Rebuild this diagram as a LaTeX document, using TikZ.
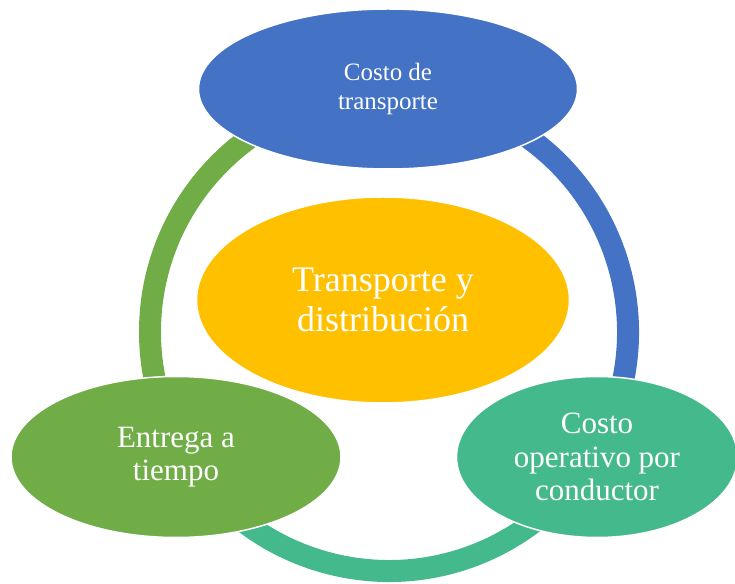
\documentclass[tikz,border=0pt]{standalone}
\usepackage{fontspec}
\setmainfont{Liberation Serif}
\usetikzlibrary{shapes}
\definecolor{costblue}{HTML}{4472C4}
\definecolor{timegreen}{HTML}{70AD47}
\definecolor{hubgold}{HTML}{FFC000}
\definecolor{drivergreen}{HTML}{44B98C}
\begin{document}
\begin{tikzpicture}[x=1pt,y=1pt,
                      ring/.style={line width=22pt},
                      oval node/.style={ellipse,draw=white,line width=1.5pt,text=white,align=center,inner sep=0pt}
                      ]
   \useasboundingbox (0,0) rectangle (735,583);
   \coordinate (o) at (389,251);
   \draw[ring,timegreen] (o) ++(90:239pt) arc[start angle=90,end angle=210,radius=239pt];
   \draw[ring,drivergreen] (o) ++(210:239pt) arc[start angle=210,end angle=330,radius=239pt];
   \draw[ring,costblue] (o) ++(330:239pt) arc[start angle=330,end angle=450,radius=239pt];
   \node[oval node,fill=hubgold,minimum width=373pt,minimum height=206pt,font=\fontsize{36}{40}\selectfont] (hub) at (383,283) {Transporte y\\distribución};
   \node[oval node,fill=costblue,minimum width=379pt,minimum height=160pt,font=\fontsize{25}{28.5}\selectfont] (cost) at (388,494) {Costo de\\transporte};
   \node[oval node,fill=timegreen,minimum width=330pt,minimum height=161pt,font=\fontsize{31}{32.5}\selectfont] (time) at (176,126) {Entrega a\\tiempo};
   \node[oval node,fill=drivergreen,minimum width=281pt,minimum height=161pt,font=\fontsize{31}{33.5}\selectfont] (driver) at (597,126) {Costo\\operativo por\\conductor};
\end{tikzpicture}
\end{document}
